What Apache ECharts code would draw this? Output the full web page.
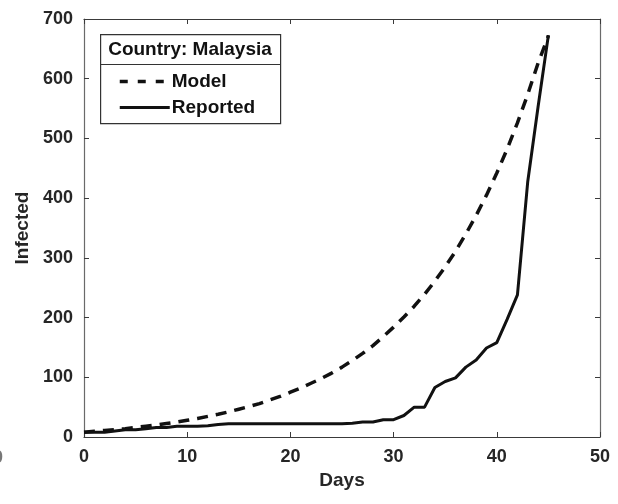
<!DOCTYPE html>
<html>
<head>
<meta charset="utf-8">
<script src="https://cdn.jsdelivr.net/npm/echarts@6/dist/echarts.min.js"></script>
<style>html,body{margin:0;padding:0;background:#fff;}#c{width:618px;height:504px;}</style>
</head>
<body>
<div id="c"></div>
<script>
var days = [];
for (var i = 0; i <= 45; i++) days.push(i);
var modelValues = [8,9.5,11,12.5,14,16,18,20,22.5,25,28,31,34.5,38,42,46.5,51,56,62,68,75,82,90,98,107,117,128,140,153,168,184,201,219,239,261,285,311,340,371,405,442,482,526,574,626,672];
var reportedValues = [8,8,8,10,12,12,14,16,16,18,18,18,19,21,22,22,22,22,22,22,22,22,22,22,22,22,23,25,25,29,29,36,50,50,83,93,99,117,129,149,158,197,238,428,553,673];
var xTicks = [0,10,20,30,40,50];
var yTicks = [0,100,200,300,400,500,600,700];
var legendTitle = 'Country: Malaysia';
var seriesNames = ['Model','Reported'];

function pairs(xs, ys){ return xs.map(function(x,i){ return [x, ys[i]]; }); }

var chart = echarts.init(document.getElementById('c'), null, {renderer:'canvas'});
var axisColor = '#3a3a3a';
var font = 'Arial, "Liberation Sans", Helvetica, sans-serif';
var lblStyle = {color:'#262626', fontSize:18, fontWeight:'bold', fontFamily:font};
chart.setOption({
  animation:false,
  backgroundColor:'#fff',
  grid:{left:84, right:18, top:19, bottom:67},
  xAxis:[{
    type:'value', min:xTicks[0], max:xTicks[xTicks.length-1], interval:10,
    name:'Days', nameLocation:'middle', nameGap:30,
    nameTextStyle:{color:'#262626', fontSize:19, fontWeight:'bold', fontFamily:font},
    axisLine:{show:true, onZero:false, lineStyle:{color:axisColor, width:1.2}},
    axisTick:{show:true, inside:true, length:5, lineStyle:{color:axisColor}},
    axisLabel:Object.assign({margin:11}, lblStyle),
    splitLine:{show:false}
  },{
    type:'value', position:'top', min:0, max:50, interval:10,
    axisLine:{show:true, onZero:false, lineStyle:{color:axisColor, width:1.2}},
    axisTick:{show:true, inside:true, length:5, lineStyle:{color:axisColor}},
    axisLabel:{show:false}, splitLine:{show:false}
  }],
  yAxis:[{
    type:'value', min:yTicks[0], max:yTicks[yTicks.length-1], interval:100,
    name:'Infected', nameLocation:'middle', nameGap:46, nameRotate:90,
    nameTextStyle:{color:'#262626', fontSize:19, fontWeight:'bold', fontFamily:font},
    axisLine:{show:true, onZero:false, lineStyle:{color:'#6a6a6a', width:1.2}},
    axisTick:{show:true, inside:true, length:5, lineStyle:{color:axisColor}},
    axisLabel:Object.assign({margin:11}, lblStyle),
    splitLine:{show:false}
  },{
    type:'value', position:'right', min:0, max:700, interval:100,
    axisLine:{show:true, onZero:false, lineStyle:{color:'#6a6a6a', width:1.2}},
    axisTick:{show:true, inside:true, length:5, lineStyle:{color:axisColor}},
    axisLabel:{show:false}, splitLine:{show:false}
  }],
  legend:{
    show:true, orient:'vertical', left:118, top:72,
    itemWidth:50, itemHeight:14, itemGap:7, padding:0,
    itemStyle:{opacity:0},
    textStyle:{color:'#111', fontSize:19, fontWeight:'bold', fontFamily:font, padding:[0,0,0,-3]},
    data:[
      {name:seriesNames[0], lineStyle:{type:[8,10], width:3.5, color:'#111'}},
      {name:seriesNames[1], lineStyle:{type:'solid', width:3, color:'#111'}}
    ]
  },
  graphic:[
    {type:'rect', left:100, top:34, shape:{width:180, height:89}, style:{fill:'#fff', stroke:'#333', lineWidth:1.2}, z:0},
    {type:'line', shape:{x1:100, y1:64.5, x2:280, y2:64.5}, style:{stroke:'#333', lineWidth:1.2}, z:100},
    {type:'text', x:190, y:50, style:{text:legendTitle, fill:'#111', font:'bold 19px ' + font, textAlign:'center', textVerticalAlign:'middle'}, z:100},
    {type:'text', x:-7, y:458, style:{text:'0', fill:'#777', font:'bold 18px ' + font, textVerticalAlign:'middle'}, z:100}
  ],
  series:[{
    name:seriesNames[0], type:'line', data:pairs(days, modelValues), symbol:'none', smooth:false,
    lineStyle:{color:'#111', width:3.5, type:[11,8]}, itemStyle:{color:'#111'}, z:3
  },{
    name:seriesNames[1], type:'line', data:pairs(days, reportedValues), symbol:'none', smooth:false,
    lineStyle:{color:'#111', width:3, type:'solid'}, itemStyle:{color:'#111'}, z:4
  }]
});
</script>
</body>
</html>
